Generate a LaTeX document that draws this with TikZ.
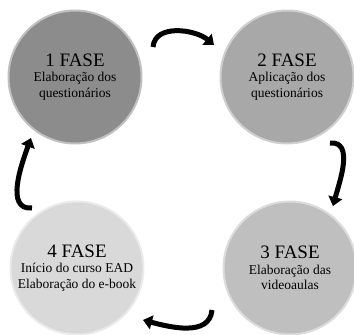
\documentclass[tikz,border=0pt]{standalone}
\usepackage{fontspec}
\setmainfont{Liberation Serif}
\usetikzlibrary{arrows.meta}

\colorlet{faseone}{black!45}
\colorlet{fasetwo}{black!34}
\colorlet{fasethree}{black!25}
\colorlet{fasefour}{black!15}

\tikzset{
  fase/.style={circle, minimum size=133pt, inner sep=0pt, align=center,
    fill=#1, draw=#1!55!white, line width=2pt,
    font=\fontsize{13.5}{15.5}\selectfont},
  cyc/.style={line width=5pt, -{Triangle[width=14pt,length=9pt]}}
}
\newcommand{\fasetitle}[1]{{\fontsize{19}{20}\selectfont #1}}

\begin{document}
\begin{tikzpicture}[x=1pt,y=-1pt]
\useasboundingbox (0,0) rectangle (354,335);

\node[fase=faseone] (f1) at (75,77) {\fasetitle{1 FASE}\\Elaboração dos\\questionários};
\node[fase=fasetwo] (f2) at (287,77) {\fasetitle{2 FASE}\\Aplicação dos\\questionários};
\node[fase=fasethree] (f3) at (290,268) {\fasetitle{3 FASE}\\Elaboração das\\videoaulas};
\node[fase=fasefour] (f4) at (77,268) {\fasetitle{4 FASE}\\Início do curso EAD\\Elaboração do e-book};

\coordinate (a1) at (153,47);
\coordinate (b1) at (214,45);
\coordinate (a2) at (330,143);
\coordinate (b2) at (333,206);
\coordinate (a3) at (212,310);
\coordinate (b3) at (143,320);
\coordinate (a4) at (32,208);
\coordinate (b4) at (31,138);

\draw[cyc] (a1) to[out=85,in=140] (b1);
\draw[cyc] (a2) to[out=5,in=75] (b2);
\draw[cyc] (a3) to[out=-95,in=-15] (b3);
\draw[cyc] (a4) to[out=185,in=-110] (b4);
\end{tikzpicture}
\end{document}
